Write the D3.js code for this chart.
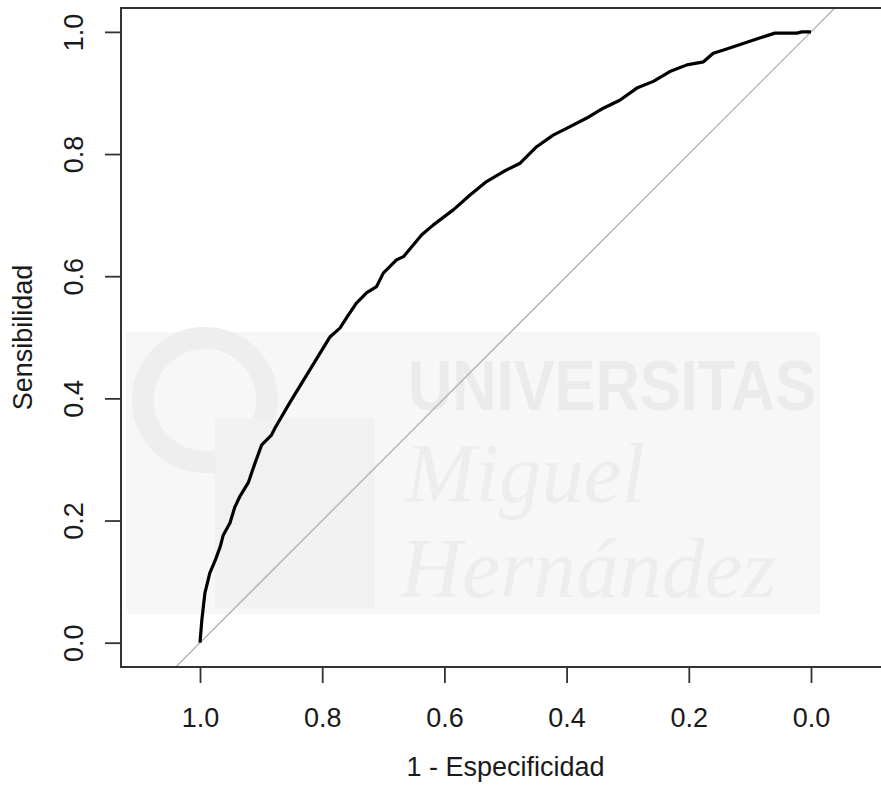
<!DOCTYPE html>
<html>
<head>
<meta charset="utf-8">
<script src="https://cdn.jsdelivr.net/npm/d3@7"></script>
<style>
  body { margin: 0; background: #fff; }
  svg { display: block; font-family: "Liberation Sans", Arial, sans-serif; }
</style>
</head>
<body>
<div id="chart"></div>
<script>
// ROC curve points (specificity, sensitivity)
const specificity = [1.000, 0.997, 0.992, 0.984, 0.975, 0.967, 0.962, 0.951, 0.943, 0.935,
  0.921, 0.910, 0.899, 0.883, 0.877, 0.853, 0.817, 0.787, 0.771, 0.760,
  0.744, 0.727, 0.711, 0.700, 0.678, 0.667, 0.651, 0.637, 0.618, 0.585,
  0.558, 0.531, 0.504, 0.476, 0.449, 0.422, 0.400, 0.367, 0.340, 0.313,
  0.285, 0.258, 0.231, 0.203, 0.176, 0.160, 0.138, 0.111, 0.084, 0.059,
  0.023, 0.015, 0.000];
const sensitivity = [0.000, 0.037, 0.081, 0.114, 0.135, 0.157, 0.176, 0.196, 0.222, 0.239,
  0.262, 0.294, 0.324, 0.340, 0.352, 0.393, 0.452, 0.501, 0.515, 0.532,
  0.556, 0.573, 0.583, 0.605, 0.627, 0.632, 0.651, 0.668, 0.684, 0.709,
  0.733, 0.755, 0.771, 0.785, 0.812, 0.831, 0.842, 0.859, 0.875, 0.888,
  0.908, 0.919, 0.935, 0.946, 0.951, 0.965, 0.972, 0.981, 0.990, 0.998,
  0.998, 1.000, 1.000];
const xTicks = [1.0, 0.8, 0.6, 0.4, 0.2, 0.0];
const yTicks = [0.0, 0.2, 0.4, 0.6, 0.8, 1.0];

const width = 881;
const height = 787;
const plot = { left: 121, right: 890, top: 8, bottom: 667 };

const x = d3.scaleLinear().domain([1.1293, -0.1293]).range([plot.left, plot.right]);
const y = d3.scaleLinear().domain([-0.0398, 1.0391]).range([plot.bottom, plot.top]);

const svg = d3.select("#chart")
  .append("svg")
  .attr("width", width)
  .attr("height", height);

svg.append("defs").append("clipPath").attr("id", "clip")
  .append("rect")
  .attr("x", plot.left).attr("y", plot.top)
  .attr("width", plot.right - plot.left).attr("height", plot.bottom - plot.top);

// faint watermark behind the plot
const wm = svg.append("g").attr("clip-path", "url(#clip)");
wm.append("rect").attr("x", 126).attr("y", 332).attr("width", 694).attr("height", 282)
  .attr("fill", "#f7f7f7");
wm.append("circle").attr("cx", 205).attr("cy", 400).attr("r", 62)
  .attr("fill", "none").attr("stroke", "#eeeeee").attr("stroke-width", 22);
wm.append("rect").attr("x", 215).attr("y", 418).attr("width", 160).attr("height", 190)
  .attr("fill", "#f1f1f1");
wm.append("text").attr("x", 408).attr("y", 410)
  .attr("textLength", 408).attr("lengthAdjust", "spacingAndGlyphs")
  .style("font-size", "70px").style("font-weight", "bold").attr("fill", "#ebebeb")
  .text("UNIVERSITAS");
const serif = "'Liberation Serif', serif";
wm.append("text").attr("x", 405).attr("y", 502)
  .attr("textLength", 240).attr("lengthAdjust", "spacingAndGlyphs")
  .style("font-family", serif).style("font-style", "italic")
  .style("font-size", "84px").attr("fill", "#ededed")
  .text("Miguel");
wm.append("text").attr("x", 400).attr("y", 597)
  .attr("textLength", 376).attr("lengthAdjust", "spacingAndGlyphs")
  .style("font-family", serif).style("font-style", "italic")
  .style("font-size", "84px").attr("fill", "#ededed")
  .text("Hernández");

// diagonal reference line
const diag = d3.line().x((d) => x(d)).y((d) => y(1 - d));
svg.append("path")
  .datum([1.2, -0.2])
  .attr("clip-path", "url(#clip)")
  .attr("d", diag)
  .attr("fill", "none")
  .attr("stroke", "#b0b0b0")
  .attr("stroke-width", 1.3);

// ROC curve
const rocData = specificity.map((s, i) => ({ spec: s, sens: sensitivity[i] }));
const line = d3.line().x((d) => x(d.spec)).y((d) => y(d.sens));
svg.append("path")
  .datum(rocData)
  .attr("d", line)
  .attr("fill", "none")
  .attr("stroke", "#000")
  .attr("stroke-width", 3.2)
  .attr("stroke-linejoin", "round");

// box
svg.append("rect")
  .attr("x", plot.left).attr("y", plot.top)
  .attr("width", plot.right - plot.left).attr("height", plot.bottom - plot.top)
  .attr("fill", "none").attr("stroke", "#333").attr("stroke-width", 2);

// axes
const xAxis = svg.append("g")
  .attr("transform", `translate(0, ${plot.bottom})`)
  .call(d3.axisBottom(x).tickValues(xTicks).tickFormat(d3.format(".1f")).tickSize(16).tickSizeOuter(0));
xAxis.select(".domain").remove();
xAxis.selectAll("line").attr("stroke", "#333").attr("stroke-width", 1.8);
xAxis.selectAll("text").attr("y", 0).attr("dy", null)
  .attr("transform", "translate(0, 60)")
  .style("font-size", "27px").style("font-family", "'Liberation Sans', Arial, sans-serif")
  .attr("fill", "#1a1a1a");

const yAxis = svg.append("g")
  .attr("transform", `translate(${plot.left}, 0)`)
  .call(d3.axisLeft(y).tickValues(yTicks).tickFormat(d3.format(".1f")).tickSize(16).tickSizeOuter(0));
yAxis.select(".domain").remove();
yAxis.selectAll("line").attr("stroke", "#333").attr("stroke-width", 1.8);
yAxis.selectAll("text")
  .attr("x", null).attr("dy", null).attr("y", 0)
  .attr("transform", "translate(-38, 0) rotate(-90)")
  .attr("text-anchor", "middle")
  .style("font-size", "27px").style("font-family", "'Liberation Sans', Arial, sans-serif")
  .attr("fill", "#1a1a1a");

// axis titles
svg.append("text")
  .attr("x", (plot.left + plot.right) / 2).attr("y", 776)
  .attr("text-anchor", "middle")
  .style("font-size", "27px").attr("fill", "#1a1a1a")
  .text("1 - Especificidad");

svg.append("text")
  .attr("transform", `translate(32, ${(plot.top + plot.bottom) / 2}) rotate(-90)`)
  .attr("text-anchor", "middle")
  .style("font-size", "27px").attr("fill", "#1a1a1a")
  .text("Sensibilidad");
</script>
</body>
</html>
